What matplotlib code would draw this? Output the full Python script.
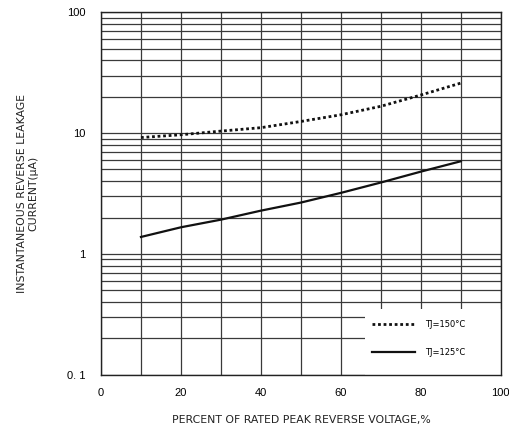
import matplotlib
matplotlib.use('Agg')
import matplotlib.pyplot as plt
from matplotlib.patches import Rectangle
import numpy as np

# percent of rated peak reverse voltage
voltage_pct = [10, 20, 30, 40, 50, 60, 70, 80, 90]
# leakage current (uA)
leak_150 = [9.2, 9.7, 10.4, 11.1, 12.5, 14.2, 16.7, 20.7, 26.0]
leak_125 = [1.38, 1.66, 1.92, 2.28, 2.66, 3.2, 3.9, 4.8, 5.85]

x_ticks = [0, 20, 40, 60, 80, 100]
y_ticks = [0.1, 1, 10, 100]
y_ticklabels = ['0. 1', '1', '10', '100']

fig = plt.figure(figsize=(5.10, 4.30), dpi=100)
ax = fig.add_axes([0.198, 0.129, 0.784, 0.842])

ax.set_yscale('log')
ax.set_xlim(0, 100)
ax.set_ylim(0.1, 100)

# grid: every 10% on x, 1..9 per decade on y
ax.set_xticks(np.arange(0, 101, 10), minor=True)
ax.grid(True, which='both', axis='both', color='#3a3a3a', linewidth=0.9)
ax.set_axisbelow(True)

# white patch behind the legend hides the grid
ax.add_patch(Rectangle((0.66, 0.0), 0.34, 0.18, transform=ax.transAxes,
                       facecolor='white', edgecolor='none', zorder=1.5))

ax.plot(voltage_pct, leak_150, color='#111111', linestyle=(0, (1, 1)),
        linewidth=2.0, label='TJ=150°C', zorder=3)
ax.plot(voltage_pct, leak_125, color='#111111', linestyle='-',
        linewidth=1.6, label='TJ=125°C', zorder=3)

ax.set_xticks(x_ticks)
ax.set_xticklabels([str(t) for t in x_ticks])
ax.set_yticks(y_ticks)
ax.set_yticklabels(y_ticklabels)
ax.tick_params(which='both', length=0)
ax.tick_params(axis='y', pad=11, labelsize=8)
ax.tick_params(axis='x', pad=10, labelsize=8)
for lab in ax.get_xticklabels() + ax.get_yticklabels():
    lab.set_fontfamily('Liberation Sans')

for sp in ax.spines.values():
    sp.set_color('#222222')
    sp.set_linewidth(1.0)

ax.set_xlabel('PERCENT OF RATED PEAK REVERSE VOLTAGE,%', fontsize=7.8,
              color='#222222', labelpad=12)
ax.set_ylabel('INSTANTANEOUS REVERSE LEAKAGE\nCURRENT(μA)', fontsize=7.8,
              color='#222222', labelpad=21, linespacing=1.1)

leg = ax.legend(loc='lower right', bbox_to_anchor=(0.93, 0.028), frameon=False,
                fontsize=6, handlelength=5.2, handletextpad=1.2,
                labelspacing=2.3, borderpad=0.4)
leg.set_zorder(4)

fig.savefig('out.png', dpi=100)
